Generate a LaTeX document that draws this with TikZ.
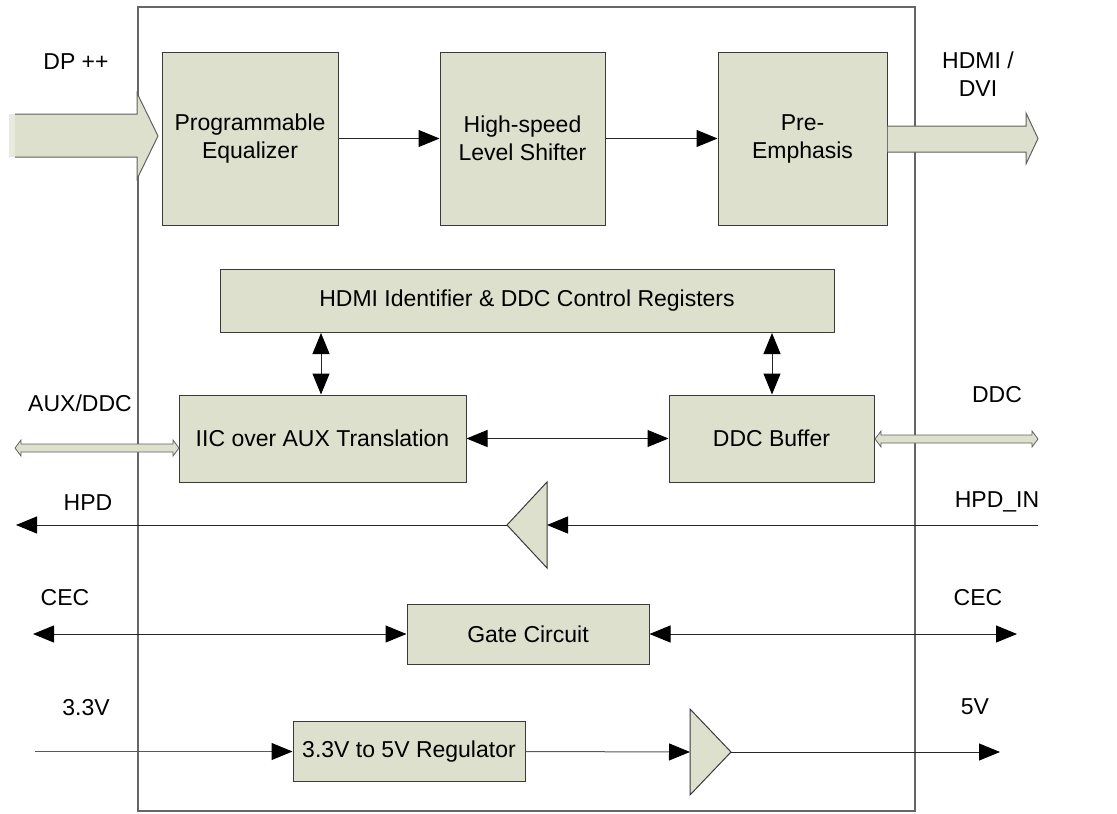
\documentclass[tikz,border=0pt]{standalone}
\usepackage{fontspec}
\setmainfont{Liberation Sans}
\usetikzlibrary{arrows.meta}
\definecolor{boxfill}{HTML}{DDE0CC}
\definecolor{boxline}{HTML}{3A3A3A}
\definecolor{outerline}{HTML}{666666}
\tikzset{
  blk/.style={draw=boxline, fill=boxfill, line width=1pt, inner sep=0pt, align=center,
    font=\fontsize{23}{28}\selectfont},
  lbl/.style={inner sep=0pt, align=center, font=\fontsize{23}{28}\selectfont},
  conn/.style={draw=black!85, line width=1pt},
  tip/.style={-{Triangle[length=21pt,width=17pt,color=black]}},
  tips/.style={{Triangle[length=21pt,width=17pt,color=black]}-{Triangle[length=21pt,width=17pt,color=black]}},
  fat/.style={fill=boxfill, draw=boxline!80, line width=1pt, line join=miter},
}
\begin{document}
\begin{tikzpicture}[x=1pt,y=-1pt]
\useasboundingbox (0,0) rectangle (1117,814);
% outer chip box
\draw[outerline, line width=1.4pt] (138,7) rectangle (915,811);

% blocks
\node[blk, minimum width=176pt, minimum height=173pt] (eq) at (250,138.5) {Programmable\\Equalizer};
\node[blk, minimum width=165pt, minimum height=173pt] (hs) at (522.5,138.5) {High-speed\\Level Shifter};
\node[blk, minimum width=169pt, minimum height=173pt] (pe) at (802.5,138.5) {Pre-\\Emphasis};
\node[blk, minimum width=614pt, minimum height=63pt] (reg) at (527,301) {HDMI Identifier \& DDC Control Registers};
\node[blk, minimum width=287pt, minimum height=87pt] (iic) at (322.5,438.5) {IIC over AUX Translation};
\node[blk, minimum width=205pt, minimum height=87pt] (ddc) at (771.5,438.5) {DDC Buffer};
\node[blk, minimum width=242pt, minimum height=60pt] (gate) at (528,634) {Gate Circuit};
\node[blk, minimum width=232pt, minimum height=60pt] (vreg) at (409,751.5) {3.3V to 5V Regulator};

% buffers (triangles)
\coordinate (b1base) at (547,525);
\coordinate (b1tip) at (507,525);
\fill[boxfill] (547,482) -- (547,568) -- (507,525) -- cycle;
\draw[boxline, line width=1pt, line join=miter] (547,482) -- (547,568) -- (507,525) -- cycle;
\coordinate (b2base) at (690,752);
\coordinate (b2tip) at (731,752);
\fill[boxfill] (690,709) -- (690,795) -- (731,752) -- cycle;
\draw[boxline, line width=1pt, line join=miter] (690,709) -- (690,795) -- (731,752) -- cycle;

% top data path
\draw[conn, tip] (eq.east) -- (hs.west);
\draw[conn, tip] (hs.east) -- (pe.west);

% fat input arrow DP++
\coordinate (dpL) at (9,136);
\coordinate (dpT) at (158,136);
\fill[boxfill] (9,114) -- (137,114) -- (137,93) -- (dpT) -- (137,179) -- (137,157) -- (9,157) -- cycle;
\fill[white, opacity=0.35] (9,114) rectangle (15,157);
\draw[boxline!80, line width=1pt, line join=miter] (15,114) -- (137,114) -- (137,93) -- (dpT) -- (137,179) -- (137,157) -- (15,157);

% fat output arrow HDMI/DVI
\coordinate (hdT) at (1038,138.5);
\draw[fat] (pe.east |- 0,126) -- (1026,126) -- (1026,113) -- (hdT) -- (1026,164) -- (1026,152) -- (pe.east |- 0,152);

% register links
\coordinate (lx) at (321,0);
\coordinate (rx) at (772,0);
\draw[conn, tips] (reg.south -| lx) -- (iic.north -| lx);
\draw[conn, tips] (reg.south -| rx) -- (ddc.north -| rx);
\draw[conn, tips] (iic.east) -- (ddc.west);

% AUX/DDC thin double arrow
\coordinate (auxL) at (15,448);
\coordinate (auxR) at (179,448);
\draw[fat, line width=0.8pt] (auxL) -- (21,440) -- (21,444) -- (173,444) -- (173,440) -- (auxR) -- (173,456) -- (173,452) -- (21,452) -- (21,456) -- cycle;

% DDC thin double arrow
\coordinate (ddcL) at (875,439);
\coordinate (ddcR) at (1038,439);
\draw[fat, line width=0.8pt] (ddcL) -- (881,431) -- (881,435) -- (1032,435) -- (1032,431) -- (ddcR) -- (1032,447) -- (1032,443) -- (881,443) -- (881,447) -- cycle;

% HPD
\coordinate (hpdR) at (1038,525);
\coordinate (hpdL) at (16,525);
\draw[conn, tip] (hpdR) -- (b1base);
\draw[conn, tip] (b1tip) -- (hpdL);

% CEC
\coordinate (cecL) at (33,634);
\coordinate (cecR) at (1017,634);
\draw[conn, tips] (cecL) -- (gate.west);
\draw[conn, tips] (gate.east) -- (cecR);

% power
\coordinate (pwL) at (35,751.5);
\coordinate (pwR) at (1000,752);
\draw[conn, draw=black!65, tip] (pwL) -- (vreg.west);
\draw[conn, draw=black!65, tip] (vreg.east) -- (b2base);
\draw[conn, tip] (b2tip) -- (pwR);

% labels
\node[lbl] (tdp) at (76,62) {DP ++};
\node[lbl] (thd) at (978,74) {HDMI /\\DVI};
\node[lbl] (taux) at (80,403) {AUX/DDC};
\node[lbl] (tddc) at (997,395) {DDC};
\node[lbl] (thpd) at (88,503) {HPD};
\node[lbl] (thpdin) at (997,502) {HPD\_IN};
\node[lbl] (tcecl) at (65,598) {CEC};
\node[lbl] (tcecr) at (978,598) {CEC};
\node[lbl] (t33) at (86,708) {3.3V};
\node[lbl] (t5) at (975,707) {5V};
\end{tikzpicture}
\end{document}
